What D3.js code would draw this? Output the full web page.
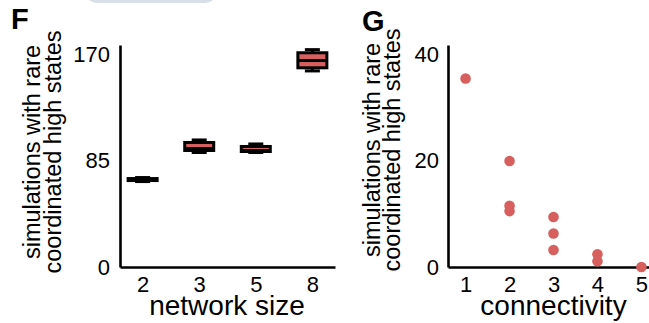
<!DOCTYPE html>
<html>
<head>
<meta charset="utf-8">
<script src="https://cdn.jsdelivr.net/npm/d3@7"></script>
<style>
  body { margin: 0; background: #fff; }
  svg { display: block; font-family: "Liberation Sans", Arial, sans-serif; }
</style>
</head>
<body>
<svg id="grafico" width="649" height="323"></svg>
<script>
"use strict"

// painel F: tamanho da rede (boxplots)
const networkSizes = ['2', '3', '5', '8'];
const whiskerLow  = [68.2, 91.4, 91.4, 156.5];
const q1          = [69.0, 93.0, 92.2, 159.0];
const median      = [69.8, 94.6, 93.0, 164.8];
const q3          = [70.6, 99.4, 96.2, 171.0];
const whiskerHigh = [71.4, 101.4, 98.2, 173.5];
const ticksF = [0, 85, 170];

// painel G: conectividade (pontos)
const connectivity = [1, 2, 2, 2, 3, 3, 3, 4, 4, 5];
const highStates   = [35.4, 19.9, 11.5, 10.5, 9.4, 6.3, 3.2, 2.4, 1.1, 0];
const ticksG = [0, 20, 40];
const connTicks = [1, 2, 3, 4, 5];

const vermelho = '#d75f5e';
const yLabel = ['simulations with rare', 'coordinated high states'];

function iniciar(){
  const svg = d3.select('#grafico');

  // borda cinza no topo (resto de outro painel)
  svg.append('rect')
     .attr('x', 85).attr('y', -20)
     .attr('width', 132).attr('height', 23)
     .attr('rx', 12)
     .attr('fill', '#d9dfe6');

  function estiloEixo(g, tam){
    g.select('.domain').attr('stroke', '#000').attr('stroke-width', 2.6);
    g.selectAll('text')
     .attr('font-size', tam)
     .attr('fill', '#000')
     .attr('font-family', '"Liberation Sans", Arial, sans-serif');
  }

  function rotuloY(cy, base1, base2){
    const t = svg.append('g');
    [base1, base2].forEach((b, i) => {
      t.append('text')
       .attr('transform', `translate(${b}, ${cy}) rotate(-90)`)
       .attr('text-anchor', 'middle')
       .attr('font-size', 23.5)
       .text(yLabel[i]);
    });
  }

  // ---------- F ----------
  const xF = d3.scalePoint()
               .domain(networkSizes)
               .range([120, 335])
               .padding(0.4);
  const yF = d3.scaleLinear()
               .domain([0, 177.2])
               .range([267, 45]);

  svg.append('g')
     .attr('transform', 'translate(120,0)')
     .call(d3.axisLeft(yF).tickValues(ticksF).tickSize(0).tickPadding(10))
     .call(g => estiloEixo(g, 22));
  svg.append('g')
     .attr('transform', `translate(0,${yF(0)})`)
     .call(d3.axisBottom(xF).tickSize(0).tickPadding(9))
     .call(g => estiloEixo(g, 22));

  const caixas = svg.append('g')
    .selectAll('.caixa')
    .data(networkSizes)
    .enter()
      .append('g')
      .classed('caixa', true);
  const bw = 29, cw = 15, sw = 3;
  caixas.append('line')
    .attr('x1', d => xF(d)).attr('x2', d => xF(d))
    .attr('y1', (d, i) => yF(whiskerLow[i]))
    .attr('y2', (d, i) => yF(whiskerHigh[i]))
    .attr('stroke', '#000').attr('stroke-width', sw);
  caixas.selectAll('.cap')
    .data((d, i) => [[d, whiskerLow[i]], [d, whiskerHigh[i]]])
    .enter()
      .append('line')
      .attr('x1', d => xF(d[0]) - cw / 2)
      .attr('x2', d => xF(d[0]) + cw / 2)
      .attr('y1', d => yF(d[1])).attr('y2', d => yF(d[1]))
      .attr('stroke', '#000').attr('stroke-width', sw);
  caixas.append('rect')
    .attr('x', d => xF(d) - bw / 2)
    .attr('y', (d, i) => yF(q3[i]))
    .attr('width', bw)
    .attr('height', (d, i) => yF(q1[i]) - yF(q3[i]))
    .attr('fill', vermelho)
    .attr('stroke', '#000').attr('stroke-width', sw);
  caixas.append('line')
    .attr('x1', d => xF(d) - bw / 2).attr('x2', d => xF(d) + bw / 2)
    .attr('y1', (d, i) => yF(median[i])).attr('y2', (d, i) => yF(median[i]))
    .attr('stroke', '#000').attr('stroke-width', sw);

  svg.append('text')
     .attr('x', 227).attr('y', 315)
     .attr('text-anchor', 'middle')
     .attr('font-size', 28)
     .text('network size');
  rotuloY(152, 40, 61);
  svg.append('text')
     .attr('x', 11).attr('y', 29)
     .attr('font-size', 29).attr('font-weight', 'bold')
     .text('F');

  // ---------- G ----------
  const xG = d3.scaleLinear()
               .domain([0.6, 5.4])
               .range([448, 659]);
  const yG = d3.scaleLinear()
               .domain([0, 41.7])
               .range([267, 45]);

  svg.append('g')
     .attr('transform', 'translate(448,0)')
     .call(d3.axisLeft(yG).tickValues(ticksG).tickSize(0).tickPadding(9))
     .call(g => estiloEixo(g, 22));
  svg.append('g')
     .attr('transform', `translate(0,${yG(0)})`)
     .call(d3.axisBottom(xG).tickValues(connTicks).tickFormat(d3.format('d')).tickSize(0).tickPadding(9))
     .call(g => estiloEixo(g, 22));

  svg.append('g')
    .selectAll('.ponto')
    .data(highStates)
    .enter()
      .append('circle')
      .classed('ponto', true)
      .attr('cx', (d, i) => xG(connectivity[i]))
      .attr('cy', d => yG(d))
      .attr('r', 5.3)
      .attr('fill', vermelho);

  svg.append('text')
     .attr('x', xG(3)).attr('y', 315)
     .attr('text-anchor', 'middle')
     .attr('font-size', 28)
     .text('connectivity');
  rotuloY(150, 380, 400);
  svg.append('text')
     .attr('x', 362).attr('y', 31)
     .attr('font-size', 29).attr('font-weight', 'bold')
     .text('G');
}

window.addEventListener('load', iniciar, false);
</script>
</body>
</html>
